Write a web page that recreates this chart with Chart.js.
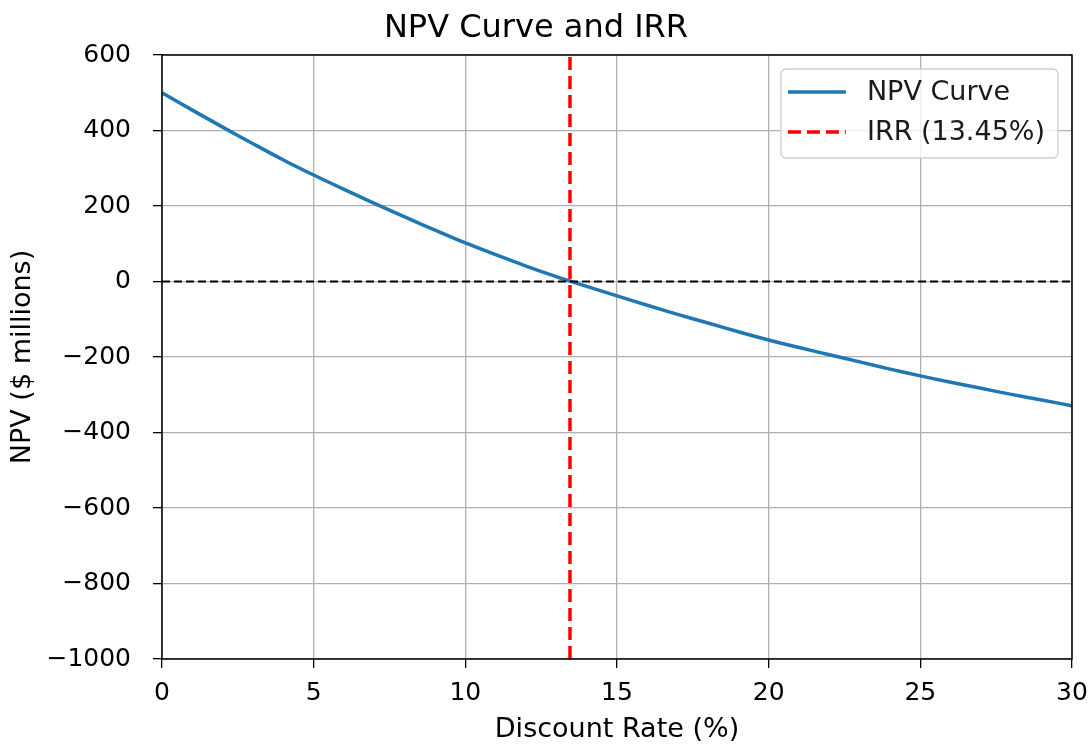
<!DOCTYPE html>
<html>
<head>
<meta charset="utf-8">
<script src="https://cdn.jsdelivr.net/npm/chart.js@4"></script>
<style>
  html, body { margin: 0; padding: 0; background: #fff; }
  #wrap { width: 1091px; height: 747px; }
</style>
</head>
<body>
<div id="wrap"><canvas id="npvChart"></canvas></div>
<script>
// discount rates (%) and NPV ($ millions)
const rates = [0,1,2,3,4,5,6,7,8,9,10,11,12,13,14,15,16,17,18,19,20,21,22,23,24,25,26,27,28,29,30];
const npv = [500,454,409,365,322,282,244,207,171,136,102,71,41,13,-13,-38,-63,-87,-110,-133,-155,-175,-194,-213,-232,-250,-267,-283,-299,-314,-329];
const irr = 13.45;
const xTicks = [0,5,10,15,20,25,30];
const yTicks = [-1000,-800,-600,-400,-200,0,200,400,600];

const FONT = 'DejaVu Sans';
const minus = v => String(v).replace('-', '\u2212');

const curvePts = rates.map((r, i) => ({ x: r, y: npv[i] }));
const irrPts = [{ x: irr, y: yTicks[0] }, { x: irr, y: yTicks[yTicks.length - 1] }];
const zeroPts = [{ x: xTicks[0], y: 0 }, { x: xTicks[xTicks.length - 1], y: 0 }];

// box around the plot + legend inside the axes, like matplotlib
const framePlugin = {
  id: 'frame',
  afterDatasetsDraw(chart) {
    const { ctx, chartArea: a } = chart;
    ctx.save();
    ctx.strokeStyle = '#000';
    ctx.lineWidth = 1.5;
    ctx.strokeRect(a.left, a.top, a.right - a.left, a.bottom - a.top);

    // legend
    const items = chart.data.datasets.filter(d => d.inLegend);
    ctx.font = '27px ' + FONT;
    const textW = Math.max(...items.map(d => ctx.measureText(d.label).width));
    const pad = 7, handle = 58, gap = 21;
    const w = pad + handle + gap + textW + 13;
    const h = 89;
    const x0 = a.right - 14 - w, y0 = a.top + 14;
    ctx.fillStyle = 'rgba(255,255,255,0.8)';
    ctx.strokeStyle = '#d0d0d0';
    ctx.lineWidth = 1.3;
    ctx.beginPath();
    ctx.roundRect(x0, y0, w, h, 5);
    ctx.fill();
    ctx.stroke();
    items.forEach((d, i) => {
      const y = y0 + 23 + i * 40;
      ctx.strokeStyle = d.borderColor;
      ctx.lineWidth = d.borderWidth;
      ctx.setLineDash(d.borderDash || []);
      ctx.beginPath();
      ctx.moveTo(x0 + pad, y);
      ctx.lineTo(x0 + pad + handle, y);
      ctx.stroke();
      ctx.setLineDash([]);
      ctx.fillStyle = '#1a1a1a';
      ctx.textBaseline = 'middle';
      ctx.textAlign = 'left';
      ctx.fillText(d.label, x0 + pad + handle + gap, y + 1);
    });
    ctx.restore();
  }
};

new Chart(document.getElementById('npvChart'), {
  type: 'scatter',
  data: {
    datasets: [
      {
        label: 'NPV Curve',
        data: curvePts,
        showLine: true,
        borderColor: '#1f77b4',
        borderWidth: 3.5,
        pointRadius: 0,
        tension: 0.3,
        inLegend: true,
        order: 3
      },
      {
        label: 'zero',
        data: zeroPts,
        showLine: true,
        borderColor: '#000',
        borderWidth: 2,
        borderDash: [8, 4],
        pointRadius: 0,
        order: 2
      },
      {
        label: 'IRR (' + irr.toFixed(2) + '%)',
        data: irrPts,
        showLine: true,
        borderColor: '#ff0000',
        borderWidth: 3.5,
        borderDash: [13, 6],
        pointRadius: 0,
        inLegend: true,
        order: 1
      }
    ]
  },
  options: {
    responsive: true,
    maintainAspectRatio: false,
    animation: false,
    layout: { padding: { left: 0, right: 19, top: 0, bottom: 0 } },
    plugins: {
      legend: { display: false },
      tooltip: { enabled: false },
      title: {
        display: true,
        text: 'NPV Curve and IRR',
        color: '#000',
        font: { family: FONT, size: 32, weight: 'normal' },
        padding: { top: 9, bottom: 7.6 }
      }
    },
    scales: {
      x: {
        type: 'linear',
        min: 0,
        max: 30,
        afterBuildTicks: s => { s.ticks = xTicks.map(v => ({ value: v })); },
        afterFit: s => { s.height = 88; s.paddingLeft = 0; s.paddingRight = 0; },
        ticks: {
          color: '#000',
          font: { family: FONT, size: 25 },
          padding: 10,
          maxRotation: 0,
          callback: v => minus(v)
        },
        grid: { color: '#b0b0b0', lineWidth: 1.3, tickColor: '#000', tickLength: 9 },
        border: { display: false },
        title: {
          display: true,
          text: 'Discount Rate (%)',
          color: '#000',
          font: { family: FONT, size: 27 },
          padding: { top: 4, bottom: 1 }
        }
      },
      y: {
        type: 'linear',
        min: -1000,
        max: 600,
        afterBuildTicks: s => { s.ticks = yTicks.map(v => ({ value: v })); },
        afterFit: s => { s.width = 162; s.paddingTop = 0; s.paddingBottom = 0; },
        ticks: {
          color: '#000',
          font: { family: FONT, size: 25 },
          padding: 22,
          callback: v => minus(v)
        },
        grid: { color: '#b0b0b0', lineWidth: 1.3, tickColor: '#000', tickLength: 9 },
        border: { display: false },
        title: {
          display: true,
          text: 'NPV ($ millions)',
          color: '#000',
          font: { family: FONT, size: 27 },
          padding: { top: 7, bottom: 4 }
        }
      }
    }
  },
  plugins: [framePlugin]
});
</script>
</body>
</html>
